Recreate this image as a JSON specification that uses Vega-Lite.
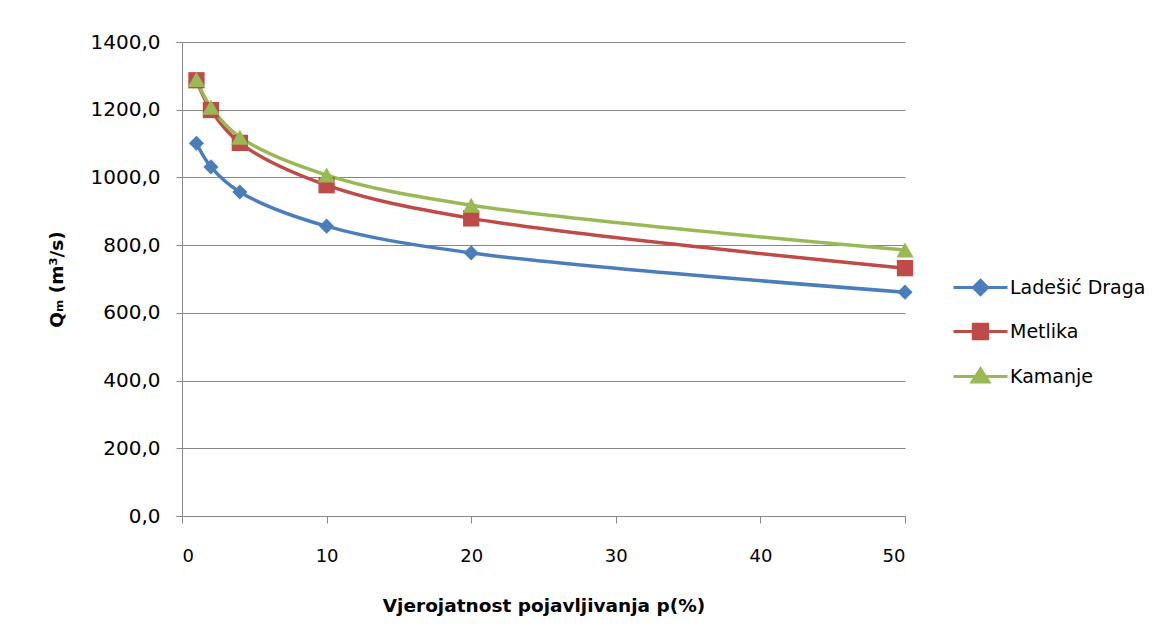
{
  "$schema": "https://vega.github.io/schema/vega-lite/v6.json",
  "width": 723,
  "height": 474,
  "autosize": {"type": "none"},
  "padding": {"left": 182, "top": 42, "right": 259, "bottom": 126},
  "background": "white",
  "config": {
    "font": "DejaVu Sans",
    "view": {"stroke": null},
    "axis": {"labelFont": "DejaVu Sans", "titleFont": "DejaVu Sans", "labelColor": "#000", "titleColor": "#000", "labelFontSize": 20, "titleFontSize": 18.5, "titleFontWeight": "bold"}
  },
  "data": {
    "values": [
      {"p": 1, "Q": 1101, "series": "Ladešić Draga"},
      {"p": 2, "Q": 1031, "series": "Ladešić Draga"},
      {"p": 4, "Q": 957, "series": "Ladešić Draga"},
      {"p": 10, "Q": 856, "series": "Ladešić Draga"},
      {"p": 20, "Q": 777, "series": "Ladešić Draga"},
      {"p": 50, "Q": 661, "series": "Ladešić Draga"},
      {"p": 1, "Q": 1287, "series": "Metlika"},
      {"p": 2, "Q": 1199, "series": "Metlika"},
      {"p": 4, "Q": 1102, "series": "Metlika"},
      {"p": 10, "Q": 977, "series": "Metlika"},
      {"p": 20, "Q": 879, "series": "Metlika"},
      {"p": 50, "Q": 732, "series": "Metlika"},
      {"p": 1, "Q": 1289, "series": "Kamanje"},
      {"p": 2, "Q": 1207, "series": "Kamanje"},
      {"p": 4, "Q": 1119, "series": "Kamanje"},
      {"p": 10, "Q": 1007, "series": "Kamanje"},
      {"p": 20, "Q": 918, "series": "Kamanje"},
      {"p": 50, "Q": 786, "series": "Kamanje"}
    ]
  },
  "encoding": {
    "x": {
      "field": "p", "type": "quantitative",
      "scale": {"domain": [0, 50], "nice": false},
      "axis": {
        "title": "Vjerojatnost pojavljivanja p(%)",
        "values": [0, 10, 20, 30, 40, 50],
        "grid": false,
        "labelFontSize": 18,
        "domainColor": "#868686", "tickColor": "#868686", "tickSize": 7,
        "labelPadding": 24, "titlePadding": 31
      }
    },
    "y": {
      "field": "Q", "type": "quantitative",
      "scale": {"domain": [0, 1400], "nice": false},
      "axis": {
        "title": "Qₘ (m³/s)",
        "values": [0, 200, 400, 600, 800, 1000, 1200, 1400],
        "labelExpr": "replace(format(datum.value, '.1f'), '.', ',')",
        "grid": true, "gridColor": "#868686", "gridWidth": 1,
        "domainColor": "#868686", "tickColor": "#868686", "tickSize": 6,
        "labelPadding": 16, "titlePadding": 24
      }
    }
  },
  "layer": [
    {
      "mark": {"type": "line", "interpolate": "catmull-rom", "strokeWidth": 3.5},
      "encoding": {
        "color": {
          "field": "series", "type": "nominal",
          "scale": {"domain": ["Ladešić Draga", "Metlika", "Kamanje"], "range": ["#4A7EBB", "#BE4B48", "#98B954"]},
          "legend": {
            "title": null,
            "orient": "none",
            "legendX": 789,
            "legendY": 236,
            "labelFont": "DejaVu Sans",
            "labelFontSize": 19,
            "labelColor": "#000",
            "symbolSize": 144,
            "labelOffset": 20,
            "rowPadding": 17,
            "encode": {
              "symbols": {
                "update": {
                  "shape": {"signal": "datum.value === 'Metlika' ? 'M-4.5,0H4.5M-1.2,-1.2H1.2V1.2H-1.2Z' : datum.value === 'Kamanje' ? 'M-4.5,0H4.5M0,-1.3L1.4,0.9H-1.4Z' : 'M-4.5,0H4.5M0,-1.2L1.2,0L0,1.2L-1.2,0Z'"},
                  "fill": {"signal": "datum.value === 'Metlika' ? '#BE4B48' : datum.value === 'Kamanje' ? '#98B954' : '#4A7EBB'"},
                  "stroke": {"signal": "datum.value === 'Metlika' ? '#BE4B48' : datum.value === 'Kamanje' ? '#98B954' : '#4A7EBB'"},
                  "strokeWidth": {"value": 3},
                  "opacity": {"value": 1}
                }
              }
            }
          }
        }
      }
    },
    {
      "mark": {"type": "point", "filled": true, "opacity": 1},
      "encoding": {
        "color": {
          "field": "series", "type": "nominal",
          "scale": {"domain": ["Ladešić Draga", "Metlika", "Kamanje"], "range": ["#4A7EBB", "#BE4B48", "#98B954"]},
          "legend": null
        },
        "shape": {
          "field": "series", "type": "nominal",
          "scale": {"domain": ["Ladešić Draga", "Metlika", "Kamanje"], "range": ["diamond", "square", "triangle-up"]},
          "legend": null
        },
        "size": {
          "field": "series", "type": "nominal",
          "scale": {"domain": ["Ladešić Draga", "Metlika", "Kamanje"], "range": [230, 300, 320]},
          "legend": null
        }
      }
    }
  ],
  "resolve": {"scale": {"color": "independent"}, "legend": {"color": "independent"}}
}
